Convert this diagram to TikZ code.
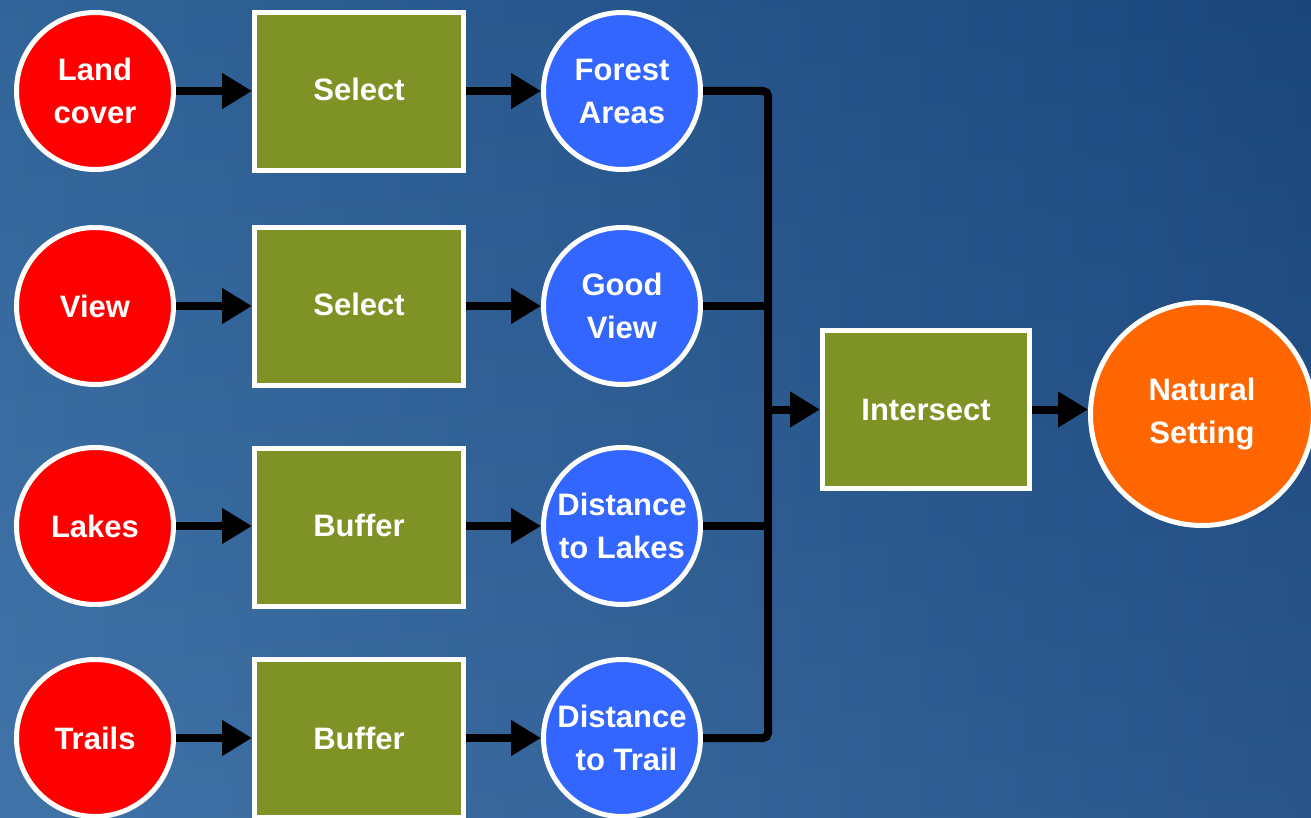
\documentclass[tikz,border=0pt]{standalone}
\usepackage{fontspec}
\setmainfont{Liberation Sans}
\usetikzlibrary{arrows.meta}

\definecolor{bgleft}{HTML}{356BA3}
\definecolor{bgright}{HTML}{1C4B84}
\definecolor{inred}{HTML}{FF0000}
\definecolor{opgreen}{HTML}{7F9225}
\definecolor{midblue}{HTML}{3366FF}
\definecolor{outorange}{HTML}{FF6600}

\tikzset{
  every node/.style={text=white, font=\fontsize{31}{43}\selectfont\bfseries, align=center},
  disc/.style={circle, draw=white, line width=5pt, inner sep=0pt, minimum size=157pt},
  input/.style={disc, fill=inred},
  layer/.style={disc, fill=midblue},
  result/.style={circle, draw=white, line width=5pt, inner sep=0pt, minimum size=223pt, fill=outorange},
  opbox/.style={rectangle, draw=white, line width=5pt, fill=opgreen, minimum width=209pt, minimum height=158pt, inner sep=0pt},
  flow/.style={line width=8pt, -{Triangle[length=30pt, width=34pt]}},
  bus/.style={line width=8pt, rounded corners=5pt}
}

\begin{document}
\begin{tikzpicture}[x=1pt, y=-1pt]
  % background
  \useasboundingbox (0,0) rectangle (1311,818);
  \shade[left color=bgleft, right color=bgright] (0,0) rectangle (1311,818);
  \shade[top color=black, bottom color=white, opacity=0.06] (0,0) rectangle (1311,818);

  % inputs
  \node[input] (land)   at (95,91)  {Land\\cover};
  \node[input] (view)   at (95,306) {View};
  \node[input] (lakes)  at (95,526) {Lakes};
  \node[input] (trails) at (95,738) {Trails};

  % operations
  \node[opbox] (sel1) at (359,91.5)  {\raisebox{4pt}{Select}};
  \node[opbox] (sel2) at (359,306.5) {\raisebox{4pt}{Select}};
  \node[opbox] (buf1) at (359,527.5) {\raisebox{4pt}{Buffer}};
  \node[opbox] (buf2) at (359,738.5) {Buffer};

  % intermediate layers
  \node[layer] (forest) at (622,91)  {Forest\\Areas};
  \node[layer] (good)   at (622,306) {Good\\View};
  \node[layer] (dlakes) at (622,526) {Distance\\to Lakes};
  \node[layer] (dtrail) at (622,738) {Distance\\\hspace*{9pt}to Trail};

  % overlay and result
  \node[opbox, minimum width=207pt] (inter) at (926,409.5) {Intersect};
  \node[result] (natural) at (1202,414) {Natural\\Setting};

  % input -> operation -> layer
  \foreach \a/\b/\c in {land/sel1/forest, view/sel2/good, lakes/buf1/dlakes, trails/buf2/dtrail} {
    \draw[flow] (\a.east) -- (\a.east -| \b.west);
    \draw[flow] (\b.east |- \a.center) -- (\c.west);
  }

  % collector bus
  \coordinate (bustop) at (768,91);
  \coordinate (busbot) at (768,738);
  \coordinate (busmid) at (768,409.5);
  \draw[bus] (forest.east) -- (bustop) -- (busbot) -- (dtrail.east);
  \draw[line width=8pt] (good.east) -- (good.east -| bustop);
  \draw[line width=8pt] (dlakes.east) -- (dlakes.east -| bustop);
  \draw[flow] (busmid) -- (inter.west);
  \draw[flow] (inter.east) -- (inter.east -| natural.west);
\end{tikzpicture}
\end{document}
